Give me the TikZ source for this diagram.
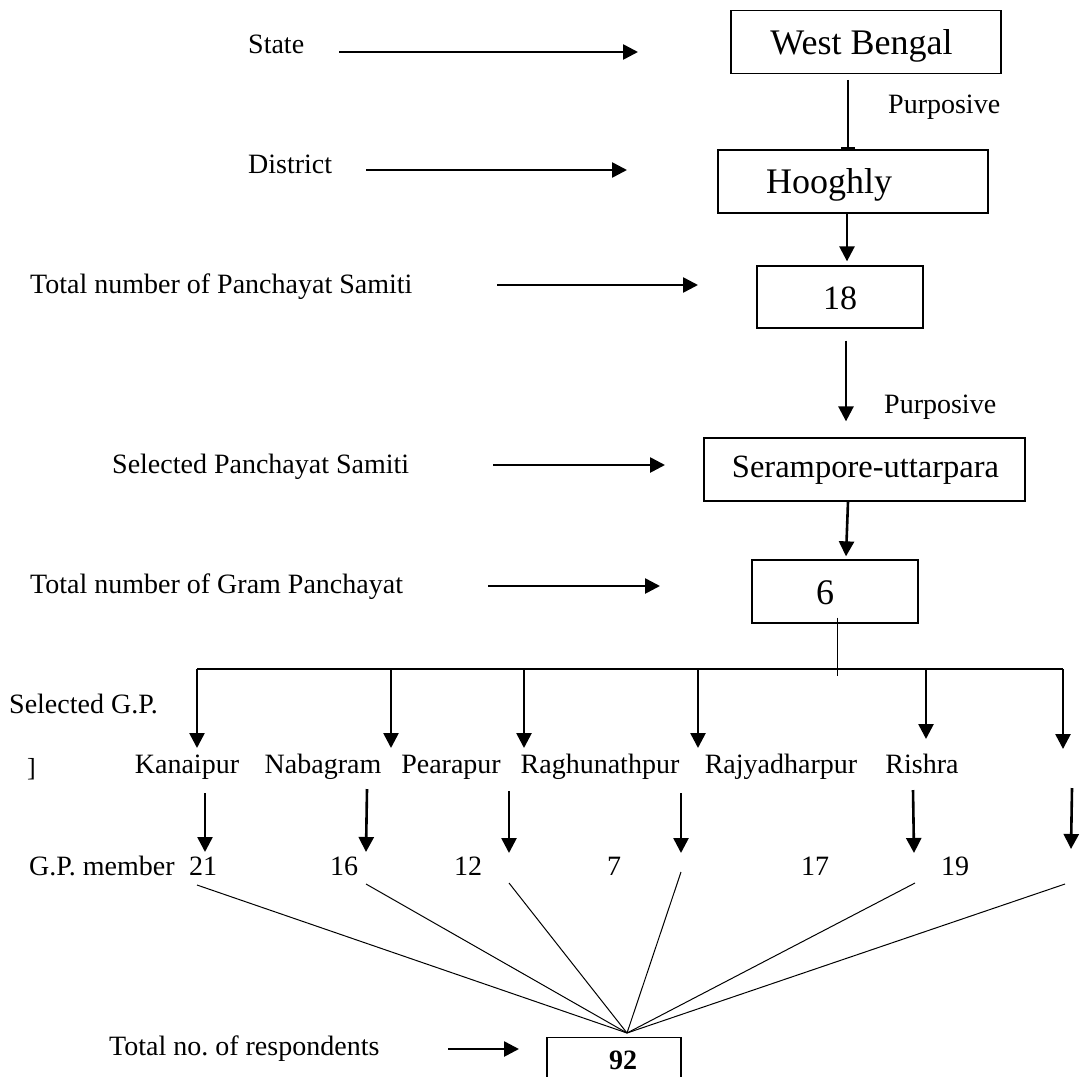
\documentclass[tikz,border=0pt]{standalone}
\usepackage{fontspec}
\setmainfont{Liberation Serif}
\usetikzlibrary{arrows.meta,calc}
\tikzset{
  arr/.style={line width=2.6pt, -{Triangle[length=15pt,width=15pt]}},
  barr/.style={line width=2.6pt, -{Bar[width=14pt,line width=2pt]}},
  box/.style={draw, line width=1.3pt, inner sep=0pt},
  lbl/.style={anchor=base west, font=\fontsize{28}{32}\selectfont, inner sep=0pt},
  mid/.style={anchor=base, font=\fontsize{28}{32}\selectfont, inner sep=0pt},
  big/.style={anchor=base, inner sep=0pt},
  fan/.style={line width=1pt},
  bus/.style={line width=1.3pt},
}
\begin{document}
\begin{tikzpicture}[x=1pt,y=-1pt]
\useasboundingbox (0,0) rectangle (1083,1076);
\clip (0,0) rectangle (1083,1076);

% boxes
\node[box, minimum width=270pt, minimum height=62.6pt] (wb) at (866,42) {};
\node[box, minimum width=270pt, minimum height=63pt] (hoog) at (853,181.5) {};
\node[box, minimum width=166pt, minimum height=62pt] (ps) at (840,297) {};
\node[box, minimum width=321pt, minimum height=63pt] (ser) at (864.5,469.5) {};
\node[box, minimum width=166pt, minimum height=63pt] (gp) at (835,591.5) {};
\node[box, minimum width=134pt, minimum height=60pt, anchor=north] (total) at (614,1037) {};

% box texts
\node[big, font=\fontsize{36}{40}\selectfont] (wbt) at (861.5,54) {West Bengal};
\node[big, font=\fontsize{36}{40}\selectfont] (hoogt) at (829,193) {Hooghly};
\node[big, font=\fontsize{34}{38}\selectfont] (pst) at (840,309) {18};
\node[big, font=\fontsize{32.5}{38}\selectfont] (sert) at (865.5,477) {Serampore-uttarpara};
\node[big, font=\fontsize{36}{40}\selectfont] (gpt) at (825,604) {6};
\node[big, font=\fontsize{28}{32}\selectfont\bfseries] (totalt) at (623,1069) {92};

% left labels
\node[lbl] (state) at (248,53) {State};
\node[lbl] (district) at (248,173) {District};
\node[lbl] (tps) at (30,293) {Total number of Panchayat Samiti};
\node[lbl] (sps) at (112,473) {Selected Panchayat Samiti};
\node[lbl] (tgp) at (30,593) {Total number of Gram Panchayat};
\node[lbl] (sgp) at (9,713) {Selected G.P.};
\node[anchor=base west, inner sep=0pt, font=\fontsize{26}{30}\selectfont] (brk) at (27,776) {]};
\node[lbl] (gpm) at (29,875) {G.P.\ member};
\node[lbl] (tnr) at (109,1055) {Total no.\ of respondents};

% purposive
\node[lbl] (pur1) at (888,113) {Purposive};
\node[lbl] (pur2) at (884,413) {Purposive};

% left arrows
\coordinate (a1s) at (339,52);  \coordinate (a1e) at (638,52);
\coordinate (a2s) at (366,170); \coordinate (a2e) at (627,170);
\coordinate (a3s) at (497,285); \coordinate (a3e) at (698,285);
\coordinate (a4s) at (493,465); \coordinate (a4e) at (665,465);
\coordinate (a5s) at (488,586); \coordinate (a5e) at (660,586);
\coordinate (a6s) at (448,1049); \coordinate (a6e) at (519,1049);
\draw[arr] (a1s) -- (a1e);
\draw[arr] (a2s) -- (a2e);
\draw[arr] (a3s) -- (a3e);
\draw[arr] (a4s) -- (a4e);
\draw[arr] (a5s) -- (a5e);
\draw[arr] (a6s) -- (a6e);

% vertical chain
\draw[barr] ([xshift=-18pt,yshift=-6pt]wb.south) -- ([xshift=-5pt]hoog.north);
\draw[arr] ([xshift=-6pt]hoog.south) -- ([xshift=7pt,yshift=4pt]ps.north);
\draw[arr] ([xshift=6pt,yshift=-12pt]ps.south) -- ([xshift=-18.5pt,yshift=16pt]ser.north);
\draw[arr] ([xshift=-16.5pt]ser.south) -- ([xshift=11pt,yshift=3pt]gp.north);
\draw[line width=1pt] ([xshift=2pt,yshift=6pt]gp.south) -- ++(0,58);

% bus line
\coordinate (b1) at (197,669);
\coordinate (b2) at (391,669);
\coordinate (b3) at (524,669);
\coordinate (b4) at (698,669);
\coordinate (b5) at (926,669);
\coordinate (b6) at (1063,669);
\draw[bus] (b1) -- (b6);
\draw[arr] (b1) -- (197,748);
\draw[arr] (b2) -- (391,748);
\draw[arr] (b3) -- (524,748);
\draw[arr] (b4) -- (698,748);
\draw[arr] (b5) -- (926,739);
\draw[arr] (b6) -- (1063,749);

% G.P. names
\node[mid] (kan) at (187,773) {Kanaipur};
\node[mid] (nab) at (323,773) {Nabagram};
\node[mid] (pea) at (451,773) {Pearapur};
\node[mid] (rag) at (600,773) {Raghunathpur};
\node[mid] (raj) at (781,773) {Rajyadharpur};
\node[mid] (ris) at (922,773) {Rishra};

% second arrows
\coordinate (c1s) at (205,793);  \coordinate (c1e) at (205,852);
\coordinate (c2s) at (367,789);  \coordinate (c2e) at (366,852);
\coordinate (c3s) at (509,791);  \coordinate (c3e) at (509,853);
\coordinate (c4s) at (681,793);  \coordinate (c4e) at (681,853);
\coordinate (c5s) at (913,790);  \coordinate (c5e) at (914,853);
\coordinate (c6s) at (1072,788); \coordinate (c6e) at (1071,849);
\draw[arr] (c1s) -- (c1e);
\draw[arr] (c2s) -- (c2e);
\draw[arr] (c3s) -- (c3e);
\draw[arr] (c4s) -- (c4e);
\draw[arr] (c5s) -- (c5e);
\draw[arr] (c6s) -- (c6e);

% member numbers
\node[mid] (n1) at (203,875) {21};
\node[mid] (n2) at (344,875) {16};
\node[mid] (n3) at (468,875) {12};
\node[mid] (n4) at (614,875) {7};
\node[mid] (n5) at (815,875) {17};
\node[mid] (n6) at (955,875) {19};

% fan lines
\coordinate (apex) at (627,1033);
\coordinate (f1) at (197,885);
\coordinate (f2) at (366,884);
\coordinate (f3) at (509,883);
\coordinate (f4) at (681,872);
\coordinate (f5) at (915,883);
\coordinate (f6) at (1065,884);
\foreach \f in {f1,f2,f3,f4,f5,f6} \draw[fan] (\f) -- (apex);
\end{tikzpicture}
\end{document}
